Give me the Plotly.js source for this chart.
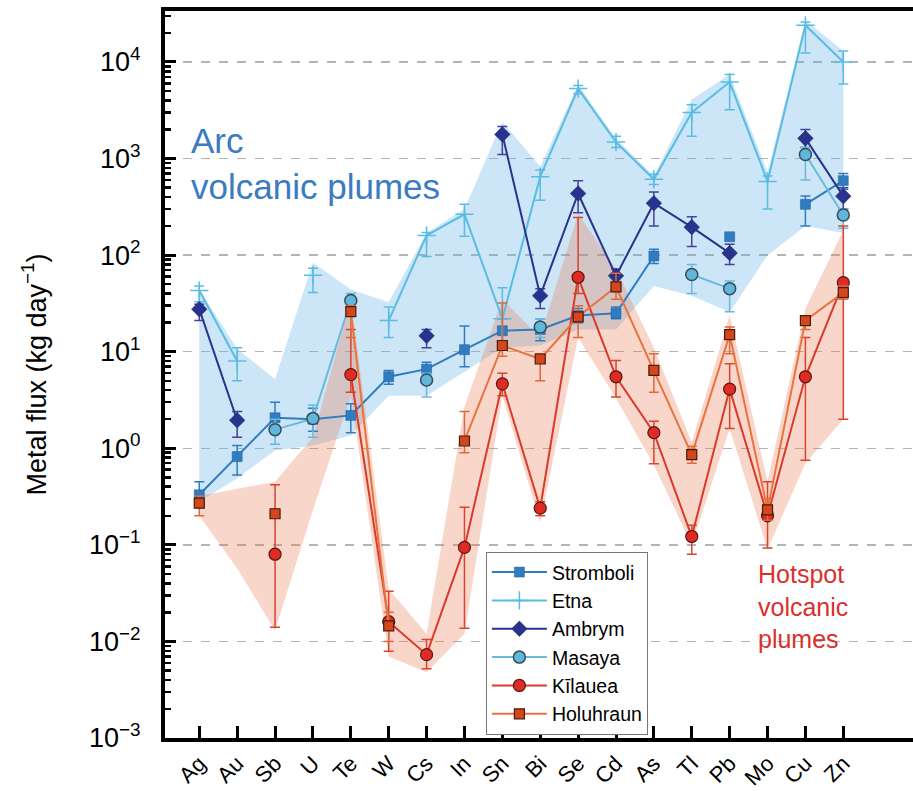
<!DOCTYPE html>
<html>
<head>
<meta charset="utf-8">
<script src="https://cdn.plot.ly/plotly-3.0.1.min.js"></script>
<style>
  html, body { margin: 0; padding: 0; background: #fff; }
  #chart { width: 913px; height: 791px; }
</style>
</head>
<body>
<div id="chart"></div>
<script>
// Element categories along the x axis
const categories = ['Ag','Au','Sb','U','Te','W','Cs','In','Sn','Bi','Se','Cd','As','Tl','Pb','Mo','Cu','Zn'];

// Metal fluxes (kg/day) with lower / upper error bounds; null = not measured
const stromboliVal = [0.33, 0.82, 2.07, 2.0, 2.19, 5.5, 6.6, 10.5, 16.5, 17, 23.7, 25, 98, null, 155, null, 336, 590];
const stromboliLo  = [0.27, 0.53, 1.5, 1.5, 1.45, 4.6, 5.5, 7, 12.5, 13, 20, 22, 82, null, null, null, 200, 480];
const stromboliHi  = [0.45, 1.07, 3.0, 2.6, 2.9, 6.4, 7.8, 18.5, 22, 22, 28, 29, 115, null, null, null, 410, 700];

const etnaVal = [43, 8, null, 62, null, 21, 160, 265, 22, 650, 5300, 1480, 610, 3000, 6200, 580, 24000, 10000];
const etnaLo  = [33, 5.0, null, 41, null, 14, 97, 157, 13, 370, 4700, 1300, 540, 1700, 3200, 300, 12400, 5900];
const etnaHi  = [48, 11, null, 73, null, 29, 172, 337, 46, 760, 5700, 1700, 690, 3600, 7400, 660, 26000, 13000];

const ambrymVal = [27.6, 1.95, null, null, null, null, 14.6, null, 1780, 38, 435, 61, 345, 195, 105, null, 1620, 408];
const ambrymLo  = [21, 1.3, null, null, null, null, 11, null, 1100, 28, 275, 48, 200, 123, 80, null, 1300, 300];
const ambrymHi  = [31, 2.4, null, null, null, null, 17, null, 2150, 45, 590, 72, 450, 250, 130, null, 2000, 500];

const masayaVal = [null, null, 1.56, 2.03, 33.9, null, 5.1, null, null, 18, null, null, null, 63, 45, null, 1100, 260];
const masayaLo  = [null, null, 1.1, 1.3, 28, null, 3.4, null, null, 14, null, null, null, 40, 26, null, 600, 190];
const masayaHi  = [null, null, 2.0, 2.8, 40, null, 6, null, null, 22, null, null, null, 80, 54, null, 1300, 300];

const kilaueaVal = [null, null, 0.08, null, 5.8, 0.016, 0.0073, 0.094, 4.65, 0.24, 59, 5.5, 1.45, 0.122, 4.1, 0.2, 5.5, 52];
const kilaueaLo  = [null, null, 0.014, null, 3.8, 0.0079, 0.0052, 0.0137, 3.5, 0.2, 40, 3.4, 0.69, 0.08, 1.6, 0.093, 0.75, 2.0];
const kilaueaHi  = [null, null, 0.42, null, 17, 0.033, 0.0105, 0.245, 6, 0.28, 245, 8.1, 1.9, 0.16, 7.5, 0.45, 14, 200];

const holuhraunVal = [0.27, null, 0.21, null, 26, 0.0145, null, 1.19, 11.6, 8.4, 23, 47, 6.4, 0.86, 15, 0.23, 21, 41];
const holuhraunLo  = [0.2, null, null, null, 14, 0.01, null, 0.9, 9, 5, 14, 35, 3.8, 0.7, 9.5, 0.18, 17, 35];
const holuhraunHi  = [0.32, null, null, null, 30, 0.02, null, 2.4, 32, 9.5, 30, 65, 9.5, 1.05, 18, 0.3, 23, 48];

// Shaded envelopes of the arc and hotspot plume fluxes
const arcUpper = [44, 10.7, 5.2, 84, 44, 32.6, 170, 300, 2400, 830, 5800, 1600, 660, 4100, 7400, 720, 27000, 13000];
const arcLower = [0.28, 0.49, 0.95, 1.07, 1.36, 3.5, 3.5, 6.2, 11, 11.6, 17, 17, 48, 38, 25.6, 100, 200, 170];
const hotUpper = [0.32, 0.38, 0.45, 1.3, 35, 0.035, 0.012, 2.7, 35, 14, 270, 72, 11, 1.15, 24, 0.45, 28, 180];
const hotLower = [0.2, 0.057, 0.013, 0.23, 3.5, 0.007, 0.0048, 0.012, 3.5, 0.17, 14, 3.3, 0.67, 0.1, 1.6, 0.09, 0.7, 2];

const FONT = 'Liberation Sans, Arial, Helvetica, sans-serif';

function envelope(upper, lower, color) {
  return {
    x: categories.concat(categories.slice().reverse()),
    y: upper.concat(lower.slice().reverse()),
    type: 'scatter', mode: 'lines', fill: 'toself',
    fillcolor: color, line: { width: 0 },
    hoverinfo: 'skip', showlegend: false
  };
}

function errBars(val, lo, hi, color) {
  const plus = val.map((v, i) => (v == null || hi[i] == null) ? NaN : hi[i] - v);
  const minus = val.map((v, i) => (v == null || lo[i] == null) ? NaN : v - lo[i]);
  return { type: 'data', symmetric: false, array: plus, arrayminus: minus,
           color: color, thickness: 1.5, width: 5 };
}

function series(name, val, lo, hi, lineColor, errColor, marker) {
  return {
    name: name, x: categories, y: val,
    type: 'scatter', mode: 'lines+markers', connectgaps: false,
    line: { color: lineColor, width: 2 },
    marker: marker,
    error_y: errBars(val, lo, hi, errColor)
  };
}

const traces = [
  envelope(arcUpper, arcLower, 'rgba(100,175,230,0.33)'),
  envelope(hotUpper, hotLower, 'rgba(235,120,80,0.30)'),
  series('Stromboli', stromboliVal, stromboliLo, stromboliHi, '#2f7dc0', '#2f7dc0',
         { symbol: 'square', size: 10, color: '#2f7dc0', line: { color: '#1f5f9a', width: 0.5 } }),
  series('Etna', etnaVal, etnaLo, etnaHi, '#59bde3', '#59bde3',
         { symbol: 'cross-thin', size: 13, color: '#59bde3', line: { color: '#59bde3', width: 1.5 } }),
  series('Ambrym', ambrymVal, ambrymLo, ambrymHi, '#27338c', '#4a3f99',
         { symbol: 'diamond', size: 12, color: '#27338c', line: { color: '#1c2670', width: 0.5 } }),
  series('Masaya', masayaVal, masayaLo, masayaHi, '#6ab9dd', '#6ab9dd',
         { symbol: 'circle', size: 12, color: '#5fb7dc', line: { color: '#3a4a55', width: 1.5 } }),
  series('Kīlauea', kilaueaVal, kilaueaLo, kilaueaHi, '#d93a2b', '#d9432f',
         { symbol: 'circle', size: 12, color: '#e02b24', line: { color: '#5a1712', width: 1.2 } }),
  series('Holuhraun', holuhraunVal, holuhraunLo, holuhraunHi, '#e8733f', '#e0683a',
         { symbol: 'square', size: 10, color: '#d2481c', line: { color: '#4a1a0a', width: 1.2 } })
];

// Decade ticks labelled as powers of ten, minor ticks at 2..9 of each decade
const majorVals = [];
const majorText = [];
for (let e = -3; e <= 4; e++) {
  majorVals.push(Math.pow(10, e));
  majorText.push('10<sup>' + (e < 0 ? '\u2212' + (-e) : e) + '</sup>');
}
const minorVals = [];
for (let e = -3; e <= 4; e++) {
  for (let m = 2; m <= 9; m++) minorVals.push(m * Math.pow(10, e));
}

const layout = {
  width: 913, height: 791,
  margin: { l: 165, r: 0, t: 11, b: 53 },
  paper_bgcolor: '#fff', plot_bgcolor: '#fff',
  font: { family: FONT, color: '#000' },
  showlegend: true,
  xaxis: {
    type: 'category', categoryorder: 'array', categoryarray: categories,
    range: [-0.905, 18.84],
    showline: true, linewidth: 4, linecolor: '#000', mirror: true,
    ticks: 'inside', ticklen: 12, tickwidth: 3, tickcolor: '#000',
    tickangle: -45, tickfont: { size: 22, family: FONT },
    ticklabelstandoff: 0,
    showgrid: false, zeroline: false, fixedrange: true
  },
  yaxis: {
    type: 'log', range: [-3, 4.528],
    showline: true, linewidth: 4, linecolor: '#000',
    ticks: 'inside', ticklen: 11, tickwidth: 3, tickcolor: '#000',
    tickmode: 'array', tickvals: majorVals, ticktext: majorText,
    tickfont: { size: 27, family: FONT },
    ticklabelstandoff: 15,
    minor: { tickmode: 'array', tickvals: minorVals, ticks: 'inside', ticklen: 6,
             tickwidth: 2.5, tickcolor: '#000', showgrid: false },
    showgrid: true, gridcolor: '#b4b4b4', gridwidth: 1.5, griddash: 'dash',
    zeroline: false,
    title: { text: 'Metal flux (kg day<sup>\u22121</sup>)', font: { size: 27, family: FONT }, standoff: 36 }
  },
  legend: {
    x: 0.429, y: 0.256, xanchor: 'left', yanchor: 'top',
    bgcolor: '#fff', bordercolor: '#777', borderwidth: 1,
    font: { size: 19.5, family: FONT }, itemwidth: 55, tracegroupgap: 0
  },
  annotations: [
    { xref: 'paper', yref: 'paper', x: 0.032, y: 0.852, xanchor: 'left', yanchor: 'top',
      align: 'left', showarrow: false, text: 'Arc<br>volcanic plumes',
      font: { size: 35, color: '#3b7bbf', family: FONT } },
    { xref: 'paper', yref: 'paper', x: 0.79, y: 0.248, xanchor: 'left', yanchor: 'top',
      align: 'left', showarrow: false, text: 'Hotspot<br>volcanic<br>plumes',
      font: { size: 25, color: '#d9302c', family: FONT } }
  ]
};

Plotly.newPlot('chart', traces, layout, { displayModeBar: false, staticPlot: true });
</script>
</body>
</html>
